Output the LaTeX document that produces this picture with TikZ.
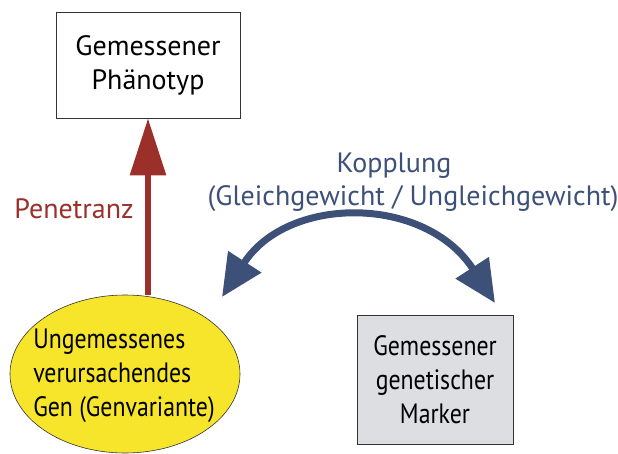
\documentclass[tikz,border=0pt]{standalone}
\usepackage{fontspec}
\setmainfont{PT Sans}
\newfontfamily\narrowfont[FakeStretch=0.85]{PT Sans}
\usetikzlibrary{arrows.meta,shapes.geometric}
\definecolor{penRed}{HTML}{9B2F2A}
\definecolor{linkBlue}{HTML}{3D5078}
\definecolor{genYellow}{HTML}{F7E52B}
\definecolor{markerGray}{HTML}{DCDEE2}
\begin{document}
\begin{tikzpicture}
[x=1pt,y=-1pt,
  textDecorate/.style={font=\fontsize{28}{34}\selectfont,inner sep=0pt},
  narrowDecorate/.style={font=\fontsize{28}{34}\narrowfont,inner sep=0pt},
  boxDecorate/.style={shape=rectangle,draw=black!80,line width=0.8pt,align=center},
  genDecorate/.style={shape=ellipse,draw=black!80,line width=0.6pt,fill=genYellow,inner sep=0pt},
  penDecorate/.style={-{Triangle[length=57pt,width=35pt]},line width=6pt,draw=penRed},
  linkDecorate/.style={{Triangle[length=42pt,width=38pt]}-{Triangle[length=42pt,width=38pt]},line width=7pt,draw=linkBlue}]
\useasboundingbox (0,0) rectangle (618,454);
%% nodes
\node (pheno) at (148,65) [boxDecorate,textDecorate,minimum width=184pt,minimum height=106pt]
  {Gemessener\\Phänotyp};
\node (gen) at (125,374) [genDecorate,minimum width=230pt,minimum height=158pt] {};
\node (genText) at (124,376) [narrowDecorate,align=left]
  {Ungemessenes\\verursachendes\\Gen (Genvariante)};
\node (marker) at (435,380) [boxDecorate,narrowDecorate,fill=markerGray,minimum width=156pt,minimum height=129pt]
  {Gemessener\\genetischer\\Marker};
%% labels
\node (pen) at (74,209) [textDecorate,text=penRed] {Penetranz};
\node (kop) at (394,166) [textDecorate,text=linkBlue] {Kopplung};
\node (gleich) at (413,199) [textDecorate,text=linkBlue] {(Gleichgewicht / Ungleichgewicht)};
%% connectors
\coordinate (linkA) at (222,297);
\coordinate (linkB) at (495,303);
\draw[penDecorate] (pheno.south |- gen.north) -- (pheno.south);
\draw[linkDecorate] (linkA) .. controls (288,195) and (425,195) .. (linkB);
\end{tikzpicture}
\end{document}
